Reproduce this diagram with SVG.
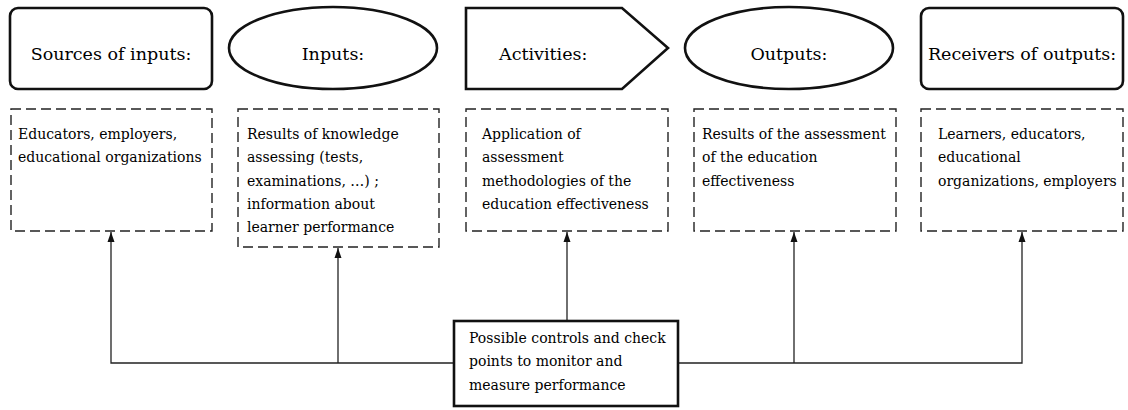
<svg xmlns="http://www.w3.org/2000/svg" width="1128" height="410" viewBox="0 0 1128 410">
<style>
.head{fill:#fff;stroke:#111;stroke-width:2.6}
.dash{fill:#fff;stroke:#222;stroke-width:1.4;stroke-dasharray:10,5}
.conn{fill:none;stroke:#222;stroke-width:1.3}
.ht{font-family:"DejaVu Serif","Liberation Serif",serif;font-size:17.5px;fill:#000}
.bt{font-family:"DejaVu Serif","Liberation Serif",serif;font-size:14px;fill:#000}
</style>
<defs>
<marker id="arr" viewBox="0 0 10 8" refX="10" refY="4" markerWidth="10" markerHeight="8" markerUnits="userSpaceOnUse" orient="auto">
<path d="M0,0.5 L10,4 L0,7.5 Z" fill="#111"/>
</marker>
</defs>
<rect width="1128" height="410" fill="#fff"/>
<g id="sources">
<rect class="head" x="10" y="8" width="202" height="81" rx="8"/>
<text class="ht" x="111" y="60" text-anchor="middle">Sources of inputs:</text>
</g>
<g id="inputs">
<ellipse class="head" cx="333" cy="48" rx="104" ry="41"/>
<text class="ht" x="333" y="60" text-anchor="middle">Inputs:</text>
</g>
<g id="activities">
<path class="head" d="M466,8 L622,8 L668,48 L622,89 L466,89 Z"/>
<text class="ht" x="499" y="60">Activities:</text>
</g>
<g id="outputs">
<ellipse class="head" cx="789" cy="48" rx="104" ry="41"/>
<text class="ht" x="789" y="60" text-anchor="middle">Outputs:</text>
</g>
<g id="receivers">
<rect class="head" x="921" y="8" width="202" height="81" rx="8"/>
<text class="ht" x="1022" y="60" text-anchor="middle">Receivers of outputs:</text>
</g>
<g id="box-sources">
<rect class="dash" x="11" y="109" width="201" height="122"/>
<text class="bt" x="18" y="139">Educators, employers,</text>
<text class="bt" x="18" y="162.3">educational organizations</text>
</g>
<g id="box-inputs">
<rect class="dash" x="238" y="109" width="201" height="138"/>
<text class="bt" x="247" y="139">Results of knowledge</text>
<text class="bt" x="247" y="162.3">assessing (tests,</text>
<text class="bt" x="247" y="185.6">examinations, …) ;</text>
<text class="bt" x="247" y="208.9">information about</text>
<text class="bt" x="247" y="232.2">learner performance</text>
</g>
<g id="box-activities">
<rect class="dash" x="466" y="109" width="202" height="122"/>
<text class="bt" x="482" y="139">Application of</text>
<text class="bt" x="482" y="162.3">assessment</text>
<text class="bt" x="482" y="185.6">methodologies of the</text>
<text class="bt" x="482" y="208.9">education effectiveness</text>
</g>
<g id="box-outputs">
<rect class="dash" x="694" y="109" width="202" height="122"/>
<text class="bt" x="702" y="139">Results of the assessment</text>
<text class="bt" x="702" y="162.3">of the education</text>
<text class="bt" x="702" y="185.6">effectiveness</text>
</g>
<g id="box-receivers">
<rect class="dash" x="921" y="109" width="202" height="122"/>
<text class="bt" x="938" y="139">Learners, educators,</text>
<text class="bt" x="938" y="162.3">educational</text>
<text class="bt" x="938" y="185.6">organizations, employers</text>
</g>
<g id="connectors">
<path class="conn" d="M454,363 H111 V232" marker-end="url(#arr)"/>
<path class="conn" d="M338,363 V248" marker-end="url(#arr)"/>
<path class="conn" d="M567,321 V232" marker-end="url(#arr)"/>
<path class="conn" d="M678,363 H1022 V232" marker-end="url(#arr)"/>
<path class="conn" d="M794,363 V232" marker-end="url(#arr)"/>
</g>
<g id="controls">
<rect class="head" x="454" y="321" width="224" height="85"/>
<text class="bt" x="469" y="343">Possible controls and check</text>
<text class="bt" x="469" y="366.3">points to monitor and</text>
<text class="bt" x="469" y="389.6">measure performance</text>
</g>
</svg>
